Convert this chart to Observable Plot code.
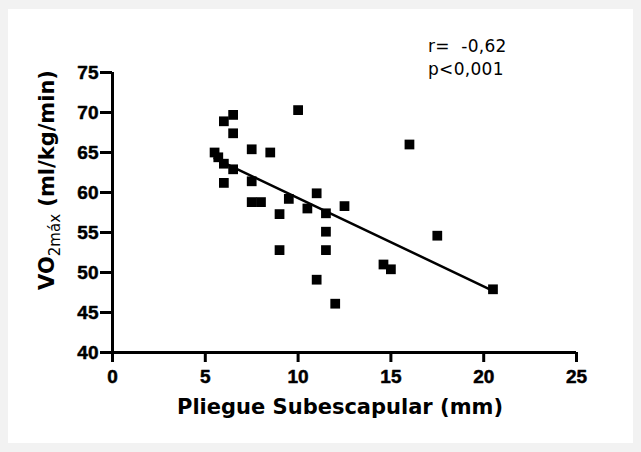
<!DOCTYPE html>
<html>
<head>
<meta charset="utf-8">
<script src="https://cdn.jsdelivr.net/npm/d3@7"></script>
<script src="https://cdn.jsdelivr.net/npm/@observablehq/plot@0.6"></script>
<style>
  html, body { margin: 0; padding: 0; background: #f2f2f2; width: 641px; height: 452px; overflow: hidden; }
  #panel { position: absolute; left: 8px; top: 9px; width: 625px; height: 434px; background: #ffffff; }
  #chart { position: absolute; left: 0; top: 0; }
  .note { position: absolute; left: 428px; font-family: "DejaVu Sans", sans-serif; font-size: 17px; color: #000; line-height: 1; letter-spacing: 0.3px; white-space: pre; }
</style>
</head>
<body>
<div id="panel"></div>
<div id="chart"></div>
<div class="note" style="top:38px;">r=  -0,62</div>
<div class="note" style="top:61px;">p&lt;0,001</div>
<script>
// Pliegue subescapular (mm)
const pliegue = [10, 6.5, 6, 6.5, 5.5, 5.7, 7.5, 8.5, 6, 6.5, 6, 7.5, 7.5, 8, 9, 9.5, 10.5, 11, 9, 11, 16, 11.5, 12.5, 11.5, 11.5, 12, 17.5, 14.6, 15, 20.5];
// VO2max (ml/kg/min)
const vo2 = [70.3, 69.7, 68.9, 67.4, 65, 64.4, 65.4, 65, 63.6, 62.9, 61.2, 61.4, 58.8, 58.8, 57.3, 59.2, 58, 59.9, 52.8, 49.1, 66, 57.4, 58.3, 55.1, 52.8, 46.1, 54.6, 51, 50.4, 47.9];
const xTicks = [0, 5, 10, 15, 20, 25];
const yTicks = [40, 45, 50, 55, 60, 65, 70, 75];

const data = pliegue.map((x, i) => ({x, y: vo2[i]}));
const font = "'DejaVu Sans', sans-serif";
const tickFont = "'Liberation Sans', Arial, sans-serif";

const chart = Plot.plot({
  width: 641,
  height: 452,
  marginLeft: 112,
  marginRight: 65,
  marginTop: 72,
  marginBottom: 100,
  style: {background: "transparent", fontFamily: tickFont, color: "#000", overflow: "visible"},
  x: {domain: [0, 25]},
  y: {domain: [40, 75]},
  marks: [
    Plot.axisX({ticks: xTicks, tickSize: 10, strokeWidth: 3, label: null, tickFormat: () => ""}),
    Plot.axisY({ticks: yTicks, tickSize: 12, strokeWidth: 3, label: null, tickFormat: () => ""}),
    Plot.text(xTicks, {x: d => d, y: 40, dy: 24, text: d => String(d), fontSize: 19, fontWeight: "bold", fontFamily: tickFont, fill: "#000", stroke: "#000", strokeWidth: 0.5, textAnchor: "middle"}),
    Plot.text(yTicks, {x: 0, y: d => d, dx: -14, text: d => String(d), fontSize: 19, fontWeight: "bold", fontFamily: tickFont, fill: "#000", stroke: "#000", strokeWidth: 0.5, textAnchor: "end"}),
    Plot.ruleX([0], {y1: 40, y2: 75, strokeWidth: 3, stroke: "#000"}),
    Plot.ruleY([40], {x1: 0, x2: 25, strokeWidth: 3, stroke: "#000"}),
    Plot.linearRegressionY(data, {x: "x", y: "y", ci: 0, stroke: "#000", strokeWidth: 2.5}),
    Plot.dot(data, {x: "x", y: "y", symbol: "square", r: 5.5, fill: "#000", stroke: "none"})
  ]
});
document.getElementById("chart").appendChild(chart);

const svg = d3.select(chart);

// X axis title
svg.append("text")
  .attr("x", 340).attr("y", 414)
  .attr("text-anchor", "middle")
  .attr("font-family", font).attr("font-weight", "bold").attr("font-size", 21)
  .attr("fill", "#000")
  .text("Pliegue Subescapular (mm)");
// Y axis title with subscript
const yl = svg.append("text")
  .attr("transform", "translate(54,180) rotate(-90)")
  .attr("text-anchor", "middle")
  .attr("font-family", font).attr("font-weight", "bold").attr("font-size", 21)
  .attr("fill", "#000");
yl.append("tspan").text("VO");
yl.append("tspan").attr("font-size", 15).attr("font-weight", "normal").attr("dy", 6).text("2máx");
yl.append("tspan").attr("dy", -6).text(" (ml/kg/min)");
</script>
</body>
</html>
